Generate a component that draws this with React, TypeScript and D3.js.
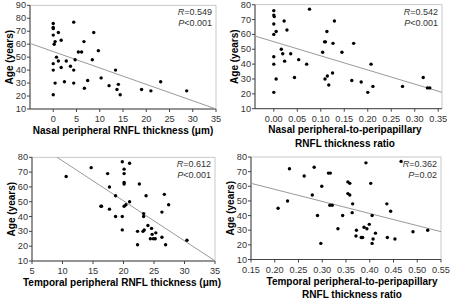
import * as d3 from 'd3'

// top-left: nasal peripheral RNFL thickness (µm)
const nasalThick = [0, 0, 0, 0, 0.2, 0.4, 0, 0, 0, 1.1, 1.7, 0.7, 1.1, 0.4, 1.7, 2.4, 2.8, 3.7, 4.4, 4.4, 4.4, 4.7, 5.4, 6.1, 6.6, 6.7, 7.4, 8.7, 8.4, 9.7, 10.3, 12, 13.4, 13.7, 14, 14.4, 19, 21, 23.1, 28.7]
const nasalThickAge = [76, 73, 72, 67, 60, 62, 45, 40, 21, 69, 63, 50, 47, 30, 42, 31, 47, 43, 77, 40, 30, 48, 54, 54, 62, 26, 32, 69, 48, 55, 34, 28, 40, 25, 29, 21, 25, 24, 31, 24]

// top-right: nasal peripheral-to-peripapillary ratio
const nasalRatio = [0, 0, 0.001, 0, 0, 0.005, 0, 0, 0, 0.005, 0.022, 0.028, 0.016, 0.019, 0.023, 0.036, 0.044, 0.053, 0.07, 0.076, 0.104, 0.11, 0.108, 0.113, 0.109, 0.114, 0.117, 0.125, 0.126, 0.129, 0.145, 0.17, 0.166, 0.186, 0.2, 0.207, 0.211, 0.274, 0.318, 0.327, 0.332]
const nasalRatioAge = [76, 73, 72, 67, 60, 62, 45, 40, 21, 30, 69, 63, 50, 47, 42, 47, 31, 43, 40, 77, 48, 55, 55, 62, 30, 32, 26, 34, 54, 69, 48, 54, 29, 28, 21, 40, 25, 25, 31, 24, 24]

// bottom-left: temporal peripheral RNFL thickness (µm)
const tempThick = [10.6, 14.7, 17.4, 17.7, 16.3, 16.4, 17.7, 18.7, 18.7, 19.8, 19.8, 19.8, 20.1, 20.1, 20.1, 20.1, 20.1, 20.4, 21, 21, 22.6, 23.7, 22.3, 22.3, 23.2, 23.4, 23.3, 23.3, 24, 24.4, 24.6, 24.7, 24.9, 25.3, 25.2, 26.3, 26.3, 26.7, 26.9, 27.4, 30.4]
const tempThickAge = [67, 73, 69, 60, 47, 47, 45, 54, 40, 40, 31, 77, 72, 69, 63, 62, 47, 48, 50, 76, 62, 54, 30, 21, 30, 31, 42, 40, 34, 25, 32, 28, 25, 29, 25, 26, 43, 55, 21, 48, 24]

// bottom-right: temporal peripheral-to-peripapillary ratio
const tempRatio = [0.231, 0.262, 0.283, 0.313, 0.317, 0.299, 0.279, 0.227, 0.207, 0.316, 0.321, 0.29, 0.297, 0.343, 0.333, 0.364, 0.354, 0.358, 0.354, 0.358, 0.363, 0.392, 0.402, 0.405, 0.399, 0.388, 0.372, 0.371, 0.385, 0.382, 0.394, 0.405, 0.407, 0.412, 0.436, 0.444, 0.437, 0.453, 0.466, 0.491, 0.522]
const tempRatioAge = [72, 67, 73, 69, 69, 60, 54, 50, 45, 47, 47, 40, 21, 40, 31, 48, 63, 62, 55, 54, 42, 76, 62, 40, 34, 32, 30, 26, 25, 25, 31, 21, 24, 28, 48, 43, 25, 24, 77, 29, 30]

// regression lines: [intercept, slope]
const fit1 = [54.3, -1.265]
const fit2 = [55.1, -95.2]
const fit3 = [104.6, -2.7]
const fit4 = [74.4, -82.5]

const stats1 = ['0.549', '<0.001']
const stats2 = ['0.542', '<0.001']
const stats3 = ['0.612', '<0.001']
const stats4 = ['0.362', '=0.02']

const font = 'Arial, "Liberation Sans", sans-serif'

function Panel({ xs, ys, fit, stats, xDomain, yDomain, xTicks, yTicks, fmt, box, title, titleX, titleY }) {
  const [left, right, top, bottom] = box
  const x = d3.scaleLinear().domain(xDomain).range([left, right])
  const y = d3.scaleLinear().domain(yDomain).range([bottom, top])

  // clip regression line to plot area
  const f = v => fit[0] + fit[1] * v
  let x0 = xDomain[0], x1 = xDomain[1]
  if (f(x1) < yDomain[0]) x1 = (yDomain[0] - fit[0]) / fit[1]
  if (f(x0) > yDomain[1]) x0 = (yDomain[1] - fit[0]) / fit[1]

  const yMid = (top + bottom) / 2
  return (
    <g>
      <rect x={left} y={top} width={right - left} height={bottom - top} fill="none" stroke="#bbb" strokeWidth={0.8} />
      <line x1={left} x2={left} y1={top} y2={bottom} stroke="#444" />
      <line x1={left} x2={right} y1={bottom} y2={bottom} stroke="#444" />
      {yTicks.map(t => (
        <g key={'y' + t}>
          <line x1={left - 3} x2={left} y1={y(t)} y2={y(t)} stroke="#444" />
          <text x={left - 4} y={y(t) + 3} textAnchor="end" fontSize={9.2} fill="#333">{t}</text>
        </g>
      ))}
      {xTicks.map(t => (
        <g key={'x' + t}>
          <line x1={x(t)} x2={x(t)} y1={bottom} y2={bottom + 3} stroke="#444" />
          <text x={x(t)} y={bottom + 13} textAnchor="middle" fontSize={9.2} fill="#333">{fmt(t)}</text>
        </g>
      ))}
      <line x1={x(x0)} y1={y(f(x0))} x2={x(x1)} y2={y(f(x1))} stroke="#9a9a9a" strokeWidth={1} />
      {xs.map((v, i) => (
        <circle key={i} cx={x(v)} cy={y(ys[i])} r={1.7} fill="#000" />
      ))}
      <text x={right - 4} y={top + 10} textAnchor="end" fontSize={9} fill="#333">
        <tspan fontStyle="italic">R</tspan>={stats[0]}
      </text>
      <text x={right - 4} y={top + 21} textAnchor="end" fontSize={9} fill="#333">
        <tspan fontStyle="italic">P</tspan>{stats[1]}
      </text>
      <text transform={`translate(${left - 17},${yMid}) rotate(-90)`} textAnchor="middle" fontSize={10} fontWeight="bold" fill="#000">Age (years)</text>
      {title.map((t, i) => (
        <text key={i} x={titleX} y={titleY + i * 13.5} textAnchor="middle" fontSize={10} fontWeight="bold" fill="#000">{t}</text>
      ))}
    </g>
  )
}

export default function App() {
  const int = d => String(d)
  const dec = d => d.toFixed(2)
  return (
    <svg width={450} height={299} style={{ position: 'absolute', left: 0, top: 0, background: '#fff' }} fontFamily={font}>
      <Panel xs={nasalThick} ys={nasalThickAge} fit={fit1} stats={stats1}
        xDomain={[-5, 35]} yDomain={[10, 90]} xTicks={d3.range(0, 36, 5)} yTicks={d3.range(10, 91, 10)} fmt={int}
        box={[30, 216, 5.3, 109]} title={['Nasal peripheral RNFL thickness (μm)']} titleX={123} titleY={134} />
      <Panel xs={nasalRatio} ys={nasalRatioAge} fit={fit2} stats={stats2}
        xDomain={[-0.04, 0.358]} yDomain={[10, 80]} xTicks={d3.range(0, 0.36, 0.05)} yTicks={d3.range(10, 81, 10)} fmt={dec}
        box={[255, 442, 4.7, 108.7]} title={['Nasal peripheral-to-peripapillary', 'RNFL thickness ratio']} titleX={345} titleY={133} />
      <Panel xs={tempThick} ys={tempThickAge} fit={fit3} stats={stats3}
        xDomain={[5, 35]} yDomain={[10, 80]} xTicks={d3.range(5, 36, 5)} yTicks={d3.range(10, 81, 10)} fmt={int}
        box={[32, 215, 157.3, 261]} title={['Temporal peripheral RNFL thickness (μm)']} titleX={122} titleY={286} />
      <Panel xs={tempRatio} ys={tempRatioAge} fit={fit4} stats={stats4}
        xDomain={[0.15, 0.55]} yDomain={[10, 80]} xTicks={d3.range(0.15, 0.56, 0.05)} yTicks={d3.range(10, 81, 10)} fmt={dec}
        box={[251, 441, 157, 259.5]} title={['Temporal peripheral-to-peripapillary', 'RNFL thickness ratio']} titleX={352} titleY={284.5} />
    </svg>
  )
}
